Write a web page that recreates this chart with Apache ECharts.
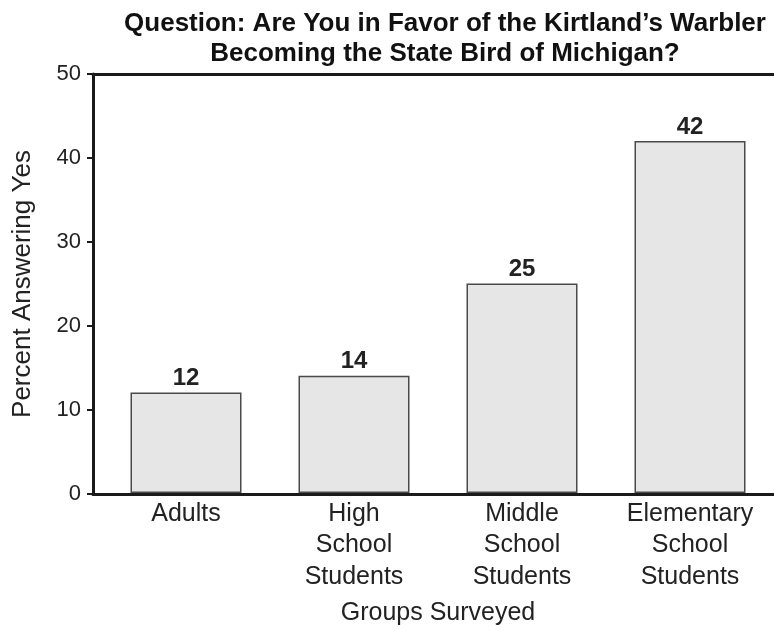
<!DOCTYPE html>
<html><head><meta charset="utf-8">
<script src="https://cdn.jsdelivr.net/npm/echarts@6/dist/echarts.min.js"></script>
<style>html,body{margin:0;padding:0;background:#fff}#c{width:774px;height:631px}</style>
</head><body><div id="c"></div>
<script>
const categories = ['Adults', 'High\nSchool\nStudents', 'Middle\nSchool\nStudents', 'Elementary\nSchool\nStudents'];
const percentYes = [12, 14, 25, 42];
const yTicks = [0, 10, 20, 30, 40, 50];

const FONT = '"Liberation Sans", Arial, sans-serif';
const chart = echarts.init(document.getElementById('c'), null, {renderer: 'canvas'});
const grid = {top: 74, bottom: 137};
chart.setOption({
  animation: false,
  title: {
    text: "Question: Are You in Favor of the Kirtland’s Warbler\nBecoming the State Bird of Michigan?",
    left: 440, top: 4, textAlign: 'center',
    textStyle: {fontFamily: FONT, fontWeight: 'bold', fontSize: 26, lineHeight: 30, color: '#111'}
  },
  grid: [
    {left: 93, right: 0, top: grid.top, bottom: grid.bottom},
    {left: 102, right: 0, top: grid.top, bottom: grid.bottom}
  ],
  xAxis: [
    {gridIndex: 0, type: 'value', min: 0, max: 1, position: 'bottom',
     axisLine: {show: true, lineStyle: {color: '#1a1a1a', width: 3}},
     axisTick: {show: false}, axisLabel: {show: false}, splitLine: {show: false}},
    {gridIndex: 0, type: 'value', min: 0, max: 1, position: 'top',
     axisLine: {show: true, lineStyle: {color: '#1a1a1a', width: 3}},
     axisTick: {show: false}, axisLabel: {show: false}, splitLine: {show: false}},
    {gridIndex: 1, type: 'category', data: categories,
     axisLine: {show: false}, axisTick: {show: false},
     axisLabel: {fontFamily: FONT, fontSize: 25, lineHeight: 31.5, color: '#222', margin: 5, interval: 0},
     name: 'Groups Surveyed', nameLocation: 'middle', nameGap: 108,
     nameTextStyle: {fontFamily: FONT, fontSize: 25, color: '#222'}}
  ],
  yAxis: [
    {gridIndex: 0, type: 'value', min: 0, max: 50, interval: 10,
     axisLine: {show: true, lineStyle: {color: '#1a1a1a', width: 3}},
     axisTick: {show: true, length: 6, lineStyle: {color: '#1a1a1a', width: 2}},
     axisLabel: {fontFamily: FONT, fontSize: 22, color: '#222', margin: 12,
                 formatter: v => yTicks.includes(v) ? String(v) : ''},
     splitLine: {show: false},
     name: 'Percent Answering Yes', nameLocation: 'middle', nameGap: 57,
     nameTextStyle: {fontFamily: FONT, fontSize: 26, color: '#222'}},
    {gridIndex: 1, type: 'value', min: 0, max: 50, interval: 10, show: false}
  ],
  series: [{
    type: 'bar', xAxisIndex: 2, yAxisIndex: 1, data: percentYes,
    barWidth: 111,
    itemStyle: {color: '#e6e6e6', borderColor: '#4a4a4a', borderWidth: 1.5},
    label: {show: true, position: 'top', distance: 2, fontFamily: FONT, fontWeight: 'bold', fontSize: 24, color: '#222'}
  }]
});
</script></body></html>
